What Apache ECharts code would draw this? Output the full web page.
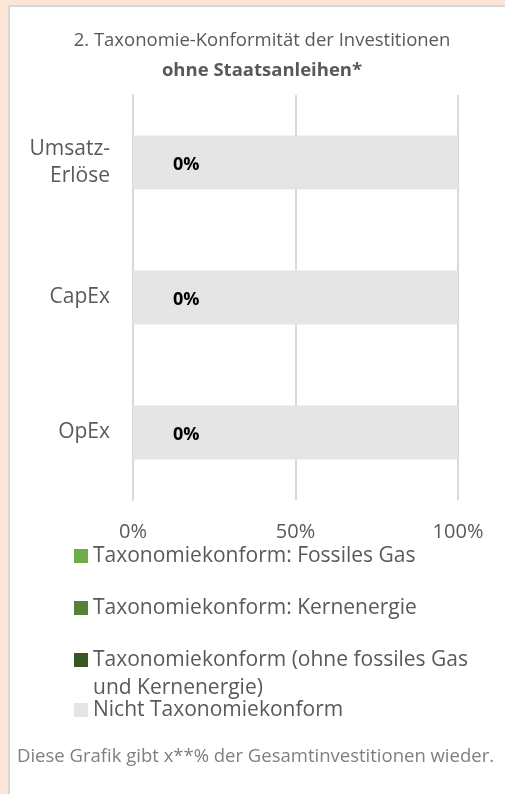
<!DOCTYPE html>
<html>
<head>
<meta charset="utf-8">
<script src="https://cdn.jsdelivr.net/npm/echarts@6/dist/echarts.min.js"></script>
<style>
html,body{margin:0;padding:0;background:#FCE4D6;}
#c{width:505px;height:794px;}
</style>
</head>
<body>
<div id="c"></div>
<script>
// ---- data ----
const categories = ['Umsatz-\nErlöse', 'CapEx', 'OpEx'];
const seriesNames = [
  'Taxonomiekonform: Fossiles Gas',
  'Taxonomiekonform: Kernenergie',
  'Taxonomiekonform (ohne fossiles Gas und Kernenergie)',
  'Nicht Taxonomiekonform'
];
const legendLines = [
  ['Taxonomiekonform: Fossiles Gas'],
  ['Taxonomiekonform: Kernenergie'],
  ['Taxonomiekonform (ohne fossiles Gas', 'und Kernenergie)'],
  ['Nicht Taxonomiekonform']
];
const fossilGas = [0, 0, 0];
const nuclear = [0, 0, 0];
const alignedOther = [0, 0, 0];
const notAligned = [100, 100, 100];
const xTicks = [0, 50, 100];
const titleLine1 = '2. Taxonomie-Konformität der Investitionen';
const titleLine2 = 'ohne Staatsanleihen*';
const footerText = 'Diese Grafik gibt x**% der Gesamtinvestitionen wieder.';

// ---- style ----
const colors = ['#70AD47', '#548235', '#375623', '#E5E5E5'];
const FONT = '"Open Sans", "DejaVu Sans", sans-serif';
const TXT = '#595959';

const chart = echarts.init(document.getElementById('c'), null, {renderer: 'canvas'});

const legendText = { color: TXT, fontSize: 21, fontFamily: FONT, lineHeight: 28 };

function legendFor(i, top) {
  const lines = legendLines[i];
  const multi = lines.length > 1;
  return {
    data: [seriesNames[i]],
    orient: 'vertical',
    left: 74,
    top: top,
    padding: 0,
    icon: 'rect',
    itemWidth: 14,
    itemHeight: 14,
    selectedMode: false,
    formatter: function () {
      if (!multi) return lines[0];
      // an empty first line keeps the first text line level with the icon
      return '{s| }\n' + lines.map(function (l) { return '{t|' + l + '}'; }).join('\n');
    },
    textStyle: Object.assign({}, legendText, multi ? {
      rich: {
        s: { fontSize: 21, lineHeight: 28, fontFamily: FONT },
        t: { fontSize: 21, lineHeight: 28, fontFamily: FONT, color: TXT }
      }
    } : {})
  };
}

const dataArrays = [fossilGas, nuclear, alignedOther, notAligned];

const series = seriesNames.map(function (name, i) {
  const s = {
    name: name,
    type: 'bar',
    stack: 'total',
    barWidth: 54,
    data: dataArrays[i],
    itemStyle: { color: colors[i] },
    emphasis: { disabled: true },
    silent: true
  };
  if (i === 2) {
    s.label = {
      show: true,
      position: 'right',
      distance: 40,
      offset: [0, 2],
      formatter: '{c}%',
      color: '#000',
      fontWeight: 'bold',
      fontSize: 18,
      fontFamily: FONT
    };
  }
  return s;
});

const option = {
  backgroundColor: '#FCE4D6',
  animation: false,
  graphic: [
    { type: 'rect', z: -10, shape: { x: 9, y: 6, width: 510, height: 800 },
      style: { fill: '#ffffff', stroke: '#D5D7DA', lineWidth: 2 } },
    { type: 'text', x: 262, y: 41, z: 10,
      style: { text: titleLine1, fill: TXT, font: '18.5px ' + FONT, textAlign: 'center', textVerticalAlign: 'middle' } },
    { type: 'text', x: 262, y: 71, z: 10,
      style: { text: titleLine2, fill: TXT, font: 'bold 18.5px ' + FONT, textAlign: 'center', textVerticalAlign: 'middle' } },
    { type: 'text', x: 17, y: 757, z: 10,
      style: { text: footerText, fill: '#7F7F7F', font: '18.5px ' + FONT, textAlign: 'left', textVerticalAlign: 'middle' } }
  ],
  legend: [
    legendFor(0, 542),
    legendFor(1, 594),
    legendFor(2, 618),
    legendFor(3, 696)
  ],
  grid: { left: 133, right: 47, top: 95, bottom: 294, containLabel: false },
  xAxis: {
    type: 'value',
    min: xTicks[0],
    max: xTicks[xTicks.length - 1],
    interval: xTicks[1] - xTicks[0],
    axisLine: { show: false },
    axisTick: { show: false },
    splitLine: { show: true, lineStyle: { color: '#D9D9D9', width: 2 } },
    axisLabel: { formatter: '{value}%', color: TXT, fontSize: 20, fontFamily: FONT, margin: 20, lineHeight: 24 }
  },
  yAxis: {
    type: 'category',
    inverse: true,
    data: categories,
    axisTick: { show: false },
    axisLine: { show: true, lineStyle: { color: '#D9D9D9', width: 2 } },
    axisLabel: { color: TXT, fontSize: 21, fontFamily: FONT, margin: 23, lineHeight: 27, align: 'right' }
  },
  series: series
};
chart.setOption(option);
</script>
</body>
</html>
